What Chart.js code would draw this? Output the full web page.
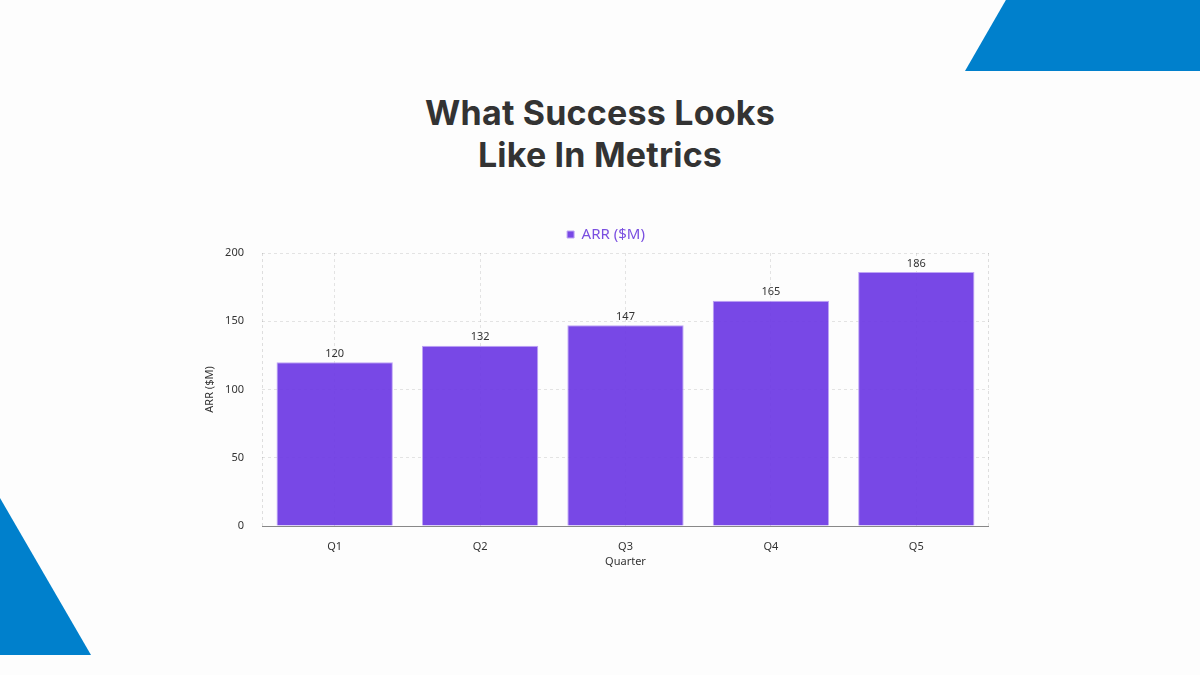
<!DOCTYPE html>
<html>
<head>
<meta charset="utf-8">
<script src="https://cdn.jsdelivr.net/npm/chart.js@4.4.0/dist/chart.umd.min.js"></script>
<style>
  html, body { margin: 0; padding: 0; }
  body { width: 1200px; height: 675px; background: #fdfdfd; position: relative; overflow: hidden; font-family: "Noto Sans", sans-serif; }
  .forma-arriba { position: absolute; left: 965px; top: 0; width: 235px; height: 71px; background: #0080cc; clip-path: polygon(17.4% 0, 100% 0, 100% 100%, 0 100%); }
  .forma-abajo { position: absolute; left: 0; top: 498px; width: 91px; height: 157px; background: #0080cc; clip-path: polygon(0 0, 100% 100%, 0 100%); }
  h1 { position: absolute; top: 92px; left: 0; width: 1200px; margin: 0; text-align: center; font-family: Inter, "Open Sans", sans-serif; font-weight: 700; font-size: 34px; line-height: 42px; color: #333333; letter-spacing: 0.2px; }
  .contenedor { position: absolute; left: 195px; top: 211px; width: 794px; height: 361px; }
</style>
</head>
<body>
<div class="forma-arriba"></div>
<div class="forma-abajo"></div>
<h1>What Success Looks<br>Like In Metrics</h1>
<div class="contenedor"><canvas id="graficoARR"></canvas></div>

<script>
// Datos del gráfico
const trimestres = ['Q1', 'Q2', 'Q3', 'Q4', 'Q5'];
const arr = [120, 132, 147, 165, 186];
const ticksY = [0, 50, 100, 150, 200];

const fuente = '"Noto Sans", sans-serif';

// Etiquetas de valor encima de cada barra
const etiquetasValor = {
	id: 'etiquetasValor',
	afterDatasetsDraw(chart) {
		const ctx = chart.ctx;
		const meta = chart.getDatasetMeta(0);
		ctx.save();
		ctx.font = '11px ' + fuente;
		ctx.fillStyle = '#333333';
		ctx.textAlign = 'center';
		ctx.textBaseline = 'bottom';
		meta.data.forEach((barra, i) => {
			ctx.fillText(arr[i], barra.x, barra.y - 3);
		});
		ctx.restore();
	}
};

// Bordes punteados a los lados del área y leyenda algo desplazada
const bordesArea = {
	id: 'bordesArea',
	afterLayout(chart) {
		chart.legend.left += 14;
		chart.legend.right += 14;
		chart.legend.top -= 1;
		chart.legend.bottom -= 1;
	},
	beforeDatasetsDraw(chart) {
		const { ctx, chartArea } = chart;
		ctx.save();
		ctx.strokeStyle = 'rgba(0,0,0,0.12)';
		ctx.lineWidth = 1;
		ctx.setLineDash([3, 3]);
		ctx.beginPath();
		ctx.moveTo(chartArea.left + 0.5, chartArea.top);
		ctx.lineTo(chartArea.left + 0.5, chartArea.bottom);
		ctx.moveTo(chartArea.right - 0.5, chartArea.top);
		ctx.lineTo(chartArea.right - 0.5, chartArea.bottom);
		ctx.stroke();
		ctx.restore();
	}
};

new Chart(document.getElementById('graficoARR'), {
	type: 'bar',
	data: {
		labels: trimestres,
		datasets: [{
			label: 'ARR ($M)',
			data: arr,
			backgroundColor: 'rgba(108, 56, 228, 0.92)',
			borderColor: 'rgba(190, 165, 245, 1)',
			borderWidth: 1,
			barPercentage: 0.8,
			categoryPercentage: 1.0
		}]
	},
	options: {
		responsive: true,
		maintainAspectRatio: false,
		animation: false,
		layout: { padding: 0 },
		plugins: {
			legend: {
				position: 'top',
				labels: {
					usePointStyle: true,
					pointStyle: 'rect',
					boxWidth: 7,
					boxHeight: 7,
					padding: 17,
					color: '#7a4fe0',
					font: { family: fuente, size: 15 }
				}
			},
			tooltip: { enabled: false }
		},
		scales: {
			x: {
				afterFit: (escala) => { escala.height = 46; },
				grid: { offset: false, color: 'rgba(0,0,0,0.1)', drawTicks: false },
				border: { display: true, color: '#888888', dash: [3, 3] },
				ticks: { color: '#333333', padding: 14, font: { family: fuente, size: 11 } },
				title: { display: true, text: 'Quarter', color: '#333333', padding: { top: 0, bottom: 4 }, font: { family: fuente, size: 11 } }
			},
			y: {
				min: 0,
				max: 200,
				afterBuildTicks: (escala) => { escala.ticks = ticksY.map(v => ({ value: v })); },
				afterFit: (escala) => { escala.width = 67; },
				grid: { color: 'rgba(0,0,0,0.1)', drawTicks: false },
				border: { display: false, dash: [3, 3] },
				ticks: { color: '#333333', padding: 18, font: { family: fuente, size: 11 } },
				title: { display: true, text: 'ARR ($M)', color: '#333333', padding: 8, font: { family: fuente, size: 11 } }
			}
		}
	},
	plugins: [bordesArea, etiquetasValor]
});
</script>
</body>
</html>
